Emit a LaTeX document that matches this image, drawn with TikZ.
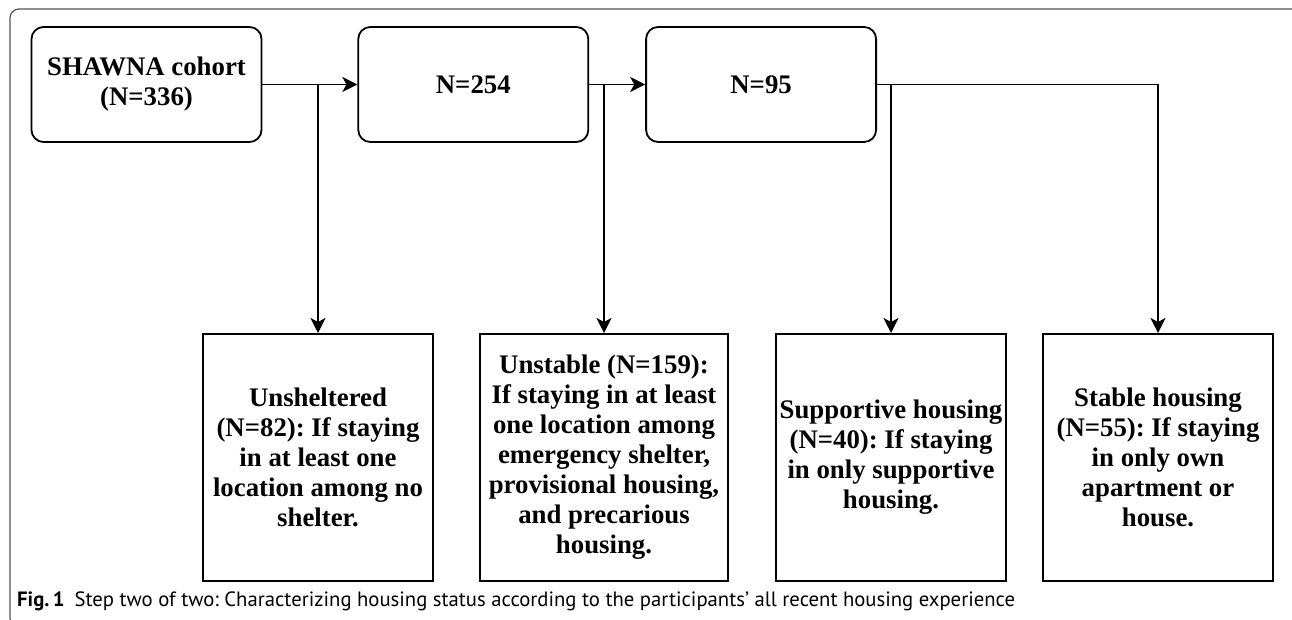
\documentclass[tikz,border=0pt]{standalone}
\usepackage{fontspec}
\setmainfont{Liberation Serif}
\newfontfamily\capfont{PT Sans}
\usetikzlibrary{positioning,arrows.meta}
\definecolor{frameC}{HTML}{555555}
\frenchspacing
\tikzset{
  x=1pt, y=1pt,
  topbox/.style={draw, rounded corners=12pt, line width=1.8pt, align=center,
                 minimum width=230pt, minimum height=115pt, inner sep=2pt,
                 font=\fontsize{26.8}{30}\selectfont\bfseries},
  catbox/.style={draw, line width=2pt, align=center, minimum width=230pt,
                 minimum height=247pt, inner sep=1pt,
                 font=\fontsize{26.8}{30}\selectfont\bfseries},
  flow/.style={-{Stealth[length=15pt,width=15pt,inset=4pt]}, line width=1.8pt},
  link/.style={line width=1.8pt},
}
\begin{document}
\begin{tikzpicture}
\clip (0,0) rectangle (1292,620);
\draw[frameC, line width=1.2pt, rounded corners=9pt] (10,611) rectangle (1301,-7);
% top row
\node[topbox] (cohort) at (146.5,535.5) {SHAWNA cohort\\(N=336)};
\node[topbox, right=95pt of cohort] (n254) {N=254};
\node[topbox, right=56pt of n254] (n95) {N=95};
% branch points
\coordinate (b1) at (318,535.5);
\coordinate (b2) at (604,535.5);
\coordinate (b3) at (891,535.5);
\coordinate (b4) at (1158,535.5);
% bottom row
\node[catbox, below=248.5pt of b1] (unshel) {Unsheltered\\(N=82): If staying\\in at least one\\location among no\\shelter.};
\node[catbox, minimum width=248pt, below=248.5pt of b2] (unstab) {Unstable (N=159):\\If staying in at least\\one location among\\emergency shelter,\\provisional housing,\\and precarious\\housing.};
\node[catbox, below=248.5pt of b3] (supp) {Supportive housing\\(N=40): If staying\\in only supportive\\housing.};
\node[catbox, below=248.5pt of b4] (stable) {Stable housing\\(N=55): If staying\\in only own\\apartment or\\house.};
% connectors
\draw[flow] (cohort) -- (n254);
\draw[flow] (n254) -- (n95);
\draw[flow] (b1) -- (unshel);
\draw[flow] (b2) -- (unstab);
\draw[link] (n95.east) -- (b4);
\draw[flow] (b3) -- (supp);
\draw[flow] (b4) -- (stable);
% caption
\node[anchor=base west, inner sep=0pt, font=\capfont\fontsize{20.7}{23}\selectfont] (cap) at (17,13)
  {\textbf{Fig.\,1}\hspace{10pt}Step two of two: Characterizing housing status according to the participants’ all recent housing experience};
\end{tikzpicture}
\end{document}
